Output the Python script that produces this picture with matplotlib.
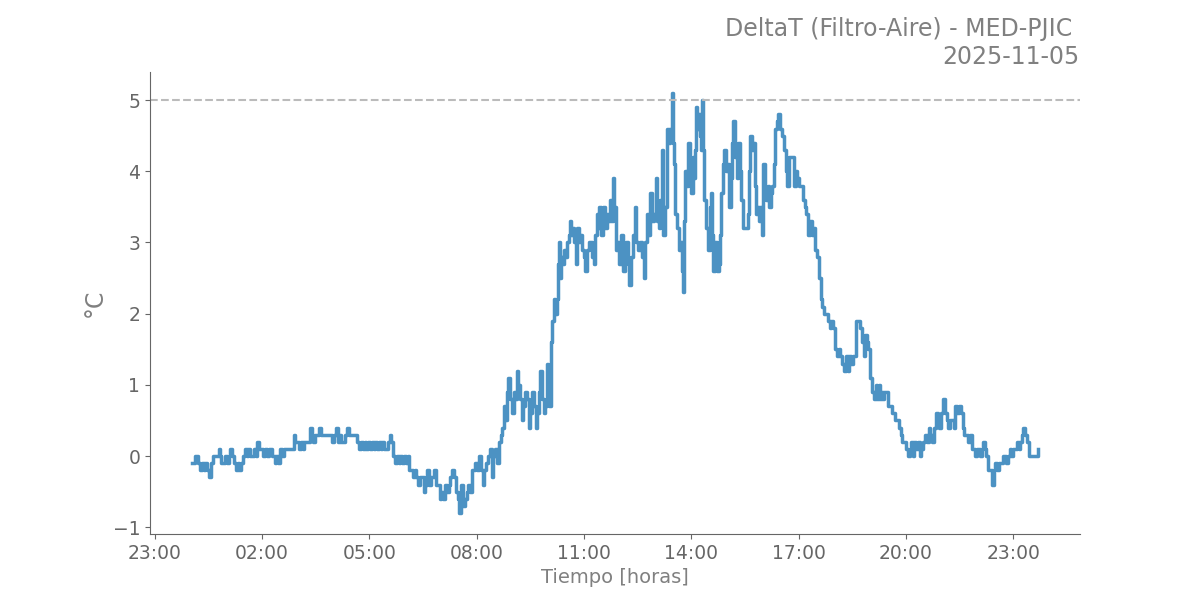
import matplotlib
matplotlib.use("Agg")
import matplotlib.pyplot as plt
import matplotlib.dates as mdates
import pandas as pd

DAY = "2025-11-05"
TITLE = "DeltaT (Filtro-Aire) - MED-PJIC \n" + DAY
THRESHOLD = 5.0

times = [
    "00:03", "00:06", "00:08", "00:11", "00:13", "00:16", "00:19", "00:22", "00:25", "00:28",
    "00:31", "00:34", "00:37", "00:41", "00:44", "00:47", "00:49", "00:52", "00:55", "00:58",
    "01:02", "01:05", "01:07", "01:10", "01:13", "01:16", "01:19", "01:22", "01:25", "01:28",
    "01:31", "01:34", "01:37", "01:40", "01:44", "01:47", "01:50", "01:52", "01:55", "01:58",
    "02:01", "02:05", "02:08", "02:11", "02:14", "02:17", "02:21", "02:24", "02:27", "02:30",
    "02:34", "02:37", "02:40", "02:44", "02:47", "02:50", "02:53", "02:56", "02:59", "03:02",
    "03:05", "03:08", "03:11", "03:14", "03:17", "03:20", "03:23", "03:26", "03:29", "03:32",
    "03:36", "03:39", "03:42", "03:45", "03:48", "03:51", "03:55", "03:58", "04:01", "04:04",
    "04:07", "04:10", "04:13", "04:16", "04:19", "04:22", "04:26", "04:29", "04:33", "04:36",
    "04:40", "04:43", "04:46", "04:49", "04:52", "04:55", "04:58", "05:01", "05:04", "05:07",
    "05:10", "05:13", "05:16", "05:19", "05:22", "05:25", "05:28", "05:31", "05:34", "05:37",
    "05:40", "05:43", "05:46", "05:49", "05:52", "05:55", "05:58", "06:01", "06:04", "06:07",
    "06:10", "06:13", "06:16", "06:19", "06:22", "06:25", "06:28", "06:31", "06:34", "06:37",
    "06:40", "06:43", "06:46", "06:49", "06:52", "06:55", "06:58", "07:01", "07:04", "07:07",
    "07:10", "07:13", "07:16", "07:19", "07:22", "07:25", "07:28", "07:31", "07:34", "07:37",
    "07:40", "07:43", "07:46", "07:49", "07:52", "07:55", "07:58", "08:01", "08:04", "08:07",
    "08:10", "08:13", "08:16", "08:19", "08:22", "08:25", "08:28", "08:31", "08:34", "08:37",
    "08:40", "08:43", "08:46", "08:48", "08:51", "08:53", "08:56", "08:59", "09:02", "09:05",
    "09:08", "09:10", "09:13", "09:16", "09:18", "09:21", "09:24", "09:27", "09:30", "09:33",
    "09:36", "09:39", "09:42", "09:45", "09:47", "09:50", "09:53", "09:55", "09:58", "10:00",
    "10:02", "10:05", "10:07", "10:09", "10:11", "10:14", "10:16", "10:18", "10:20", "10:22",
    "10:24", "10:27", "10:29", "10:32", "10:35", "10:37", "10:39", "10:42", "10:44", "10:46",
    "10:49", "10:52", "10:54", "10:57", "11:00", "11:02", "11:05", "11:08", "11:11", "11:14",
    "11:16", "11:18", "11:21", "11:23", "11:26", "11:29", "11:32", "11:35", "11:38", "11:41",
    "11:44", "11:46", "11:48", "11:51", "11:53", "11:56", "11:59", "12:02", "12:05", "12:08",
    "12:11", "12:14", "12:16", "12:19", "12:22", "12:25", "12:28", "12:31", "12:34", "12:37",
    "12:40", "12:43", "12:46", "12:48", "12:51", "12:54", "12:57", "13:00", "13:03", "13:06",
    "13:08", "13:10", "13:13", "13:16", "13:19", "13:22", "13:25", "13:27", "13:29", "13:31",
    "13:33", "13:36", "13:39", "13:41", "13:44", "13:46", "13:48", "13:50", "13:52", "13:55",
    "13:57", "14:00", "14:02", "14:04", "14:06", "14:08", "14:10", "14:12", "14:14", "14:16",
    "14:18", "14:20", "14:22", "14:25", "14:28", "14:31", "14:33", "14:35", "14:37", "14:40",
    "14:43", "14:46", "14:48", "14:50", "14:53", "14:55", "14:58", "15:01", "15:04", "15:06",
    "15:08", "15:10", "15:13", "15:16", "15:19", "15:22", "15:24", "15:26", "15:29", "15:32",
    "15:35", "15:37", "15:39", "15:41", "15:43", "15:46", "15:48", "15:51", "15:53", "15:56",
    "15:58", "16:00", "16:03", "16:06", "16:09", "16:11", "16:14", "16:16", "16:18", "16:20",
    "16:23", "16:26", "16:29", "16:32", "16:35", "16:38", "16:41", "16:44", "16:47", "16:50",
    "16:52", "16:55", "16:58", "17:01", "17:04", "17:07", "17:10", "17:13", "17:16", "17:19",
    "17:22", "17:25", "17:28", "17:31", "17:34", "17:37", "17:40", "17:43", "17:46", "17:49",
    "17:52", "17:55", "17:58", "18:01", "18:04", "18:07", "18:10", "18:13", "18:16", "18:19",
    "18:22", "18:25", "18:28", "18:31", "18:34", "18:37", "18:40", "18:43", "18:46", "18:49",
    "18:52", "18:55", "18:57", "19:00", "19:03", "19:06", "19:09", "19:11", "19:14", "19:16",
    "19:19", "19:21", "19:24", "19:27", "19:30", "19:33", "19:36", "19:39", "19:42", "19:45",
    "19:48", "19:51", "19:54", "19:57", "20:00", "20:03", "20:06", "20:09", "20:11", "20:14",
    "20:17", "20:20", "20:23", "20:26", "20:29", "20:32", "20:35", "20:38", "20:41", "20:44",
    "20:47", "20:50", "20:53", "20:56", "20:59", "21:02", "21:05", "21:08", "21:11", "21:14",
    "21:17", "21:20", "21:23", "21:26", "21:29", "21:32", "21:35", "21:38", "21:41", "21:44",
    "21:47", "21:50", "21:53", "21:56", "21:59", "22:02", "22:05", "22:08", "22:10", "22:13",
    "22:15", "22:18", "22:21", "22:24", "22:27", "22:30", "22:33", "22:36", "22:39", "22:42",
    "22:45", "22:48", "22:51", "22:54", "22:57", "23:00", "23:03", "23:06", "23:09", "23:12",
    "23:15", "23:17", "23:20", "23:23", "23:26", "23:29", "23:32", "23:35", "23:38", "23:41",
]

delta_t = [
    -0.1, -0.1, 0.0, 0.0, -0.1, -0.2, -0.1, -0.2, -0.1, -0.2,
    -0.3, -0.1, 0.0, 0.0, 0.0, 0.1, 0.0, -0.1, -0.1, 0.0,
    -0.1, 0.0, 0.1, 0.0, -0.1, -0.2, -0.1, -0.2, -0.1, 0.0,
    0.1, 0.0, 0.1, 0.0, 0.0, 0.1, 0.0, 0.2, 0.1, 0.1,
    0.0, 0.1, 0.0, 0.1, 0.1, 0.0, -0.1, 0.0, -0.1, 0.1,
    0.0, 0.1, 0.1, 0.1, 0.1, 0.1, 0.3, 0.2, 0.2, 0.1,
    0.2, 0.1, 0.2, 0.2, 0.2, 0.4, 0.3, 0.2, 0.3, 0.3,
    0.4, 0.3, 0.3, 0.3, 0.3, 0.3, 0.3, 0.2, 0.3, 0.4,
    0.2, 0.3, 0.2, 0.2, 0.3, 0.4, 0.3, 0.3, 0.3, 0.3,
    0.2, 0.1, 0.2, 0.1, 0.2, 0.1, 0.2, 0.1, 0.2, 0.1,
    0.2, 0.1, 0.2, 0.1, 0.2, 0.1, 0.1, 0.2, 0.3, 0.2,
    0.0, -0.1, 0.0, -0.1, 0.0, -0.1, 0.0, -0.1, 0.0, -0.2,
    -0.2, -0.3, -0.2, -0.3, -0.4, -0.3, -0.3, -0.5, -0.4, -0.2,
    -0.4, -0.3, -0.3, -0.2, -0.4, -0.4, -0.6, -0.5, -0.6, -0.4,
    -0.5, -0.4, -0.3, -0.2, -0.3, -0.5, -0.6, -0.8, -0.4, -0.7,
    -0.6, -0.5, -0.4, -0.5, -0.2, -0.2, -0.1, -0.2, 0.0, -0.2,
    -0.4, -0.2, -0.1, 0.0, 0.1, -0.3, 0.0, 0.1, -0.1, 0.2,
    0.3, 0.4, 0.7, 0.5, 0.9, 1.1, 0.8, 0.6, 0.9, 0.8,
    1.2, 1.0, 0.8, 0.5, 0.7, 0.9, 0.8, 0.4, 0.6, 0.9,
    0.7, 0.4, 0.6, 0.9, 1.2, 0.8, 0.6, 0.7, 1.3, 0.9,
    0.7, 1.6, 1.9, 2.2, 2.0, 2.2, 2.7, 3.0, 2.5, 2.8,
    2.7, 2.9, 2.8, 3.0, 3.1, 3.3, 3.1, 3.2, 3.0, 2.7,
    3.2, 3.0, 3.1, 2.9, 2.8, 2.6, 2.9, 3.0, 3.0, 2.8,
    2.7, 3.1, 3.4, 3.2, 3.5, 3.1, 3.5, 3.2, 3.4, 3.3,
    3.6, 3.3, 3.9, 3.5, 2.9, 3.0, 2.7, 3.1, 2.6, 2.9,
    3.0, 2.7, 2.4, 2.8, 3.1, 3.5, 3.0, 2.9, 3.0, 2.8,
    2.5, 3.0, 3.4, 3.1, 3.7, 3.3, 3.4, 3.9, 3.3, 3.2,
    3.6, 4.3, 3.1, 3.5, 4.6, 4.4, 4.6, 5.1, 4.4, 4.1,
    3.4, 3.2, 2.9, 3.0, 2.6, 2.3, 3.3, 4.0, 3.8, 4.4,
    3.9, 3.7, 4.2, 3.9, 4.3, 4.9, 4.6, 4.8, 4.5, 4.3,
    5.0, 4.3, 3.6, 3.2, 2.9, 3.5, 3.7, 3.1, 2.6, 3.0,
    2.6, 2.7, 3.1, 3.7, 4.1, 4.3, 4.0, 4.1, 3.5, 3.9,
    4.4, 4.7, 4.2, 3.9, 4.4, 4.0, 3.6, 3.2, 3.2, 3.2,
    3.4, 4.0, 4.5, 4.3, 4.4, 3.8, 3.4, 3.5, 3.3, 3.5,
    3.1, 4.1, 3.8, 3.6, 3.8, 3.5, 3.7, 3.8, 4.1, 4.6,
    4.7, 4.8, 4.6, 4.5, 4.3, 4.0, 3.8, 4.2, 4.2, 4.2,
    3.8, 4.0, 3.9, 3.8, 3.8, 3.6, 3.5, 3.4, 3.1, 3.3,
    3.1, 3.2, 2.9, 2.8, 2.5, 2.2, 2.1, 2.0, 2.0, 1.9,
    1.8, 1.9, 1.8, 1.5, 1.4, 1.5, 1.4, 1.3, 1.2, 1.4,
    1.2, 1.4, 1.3, 1.4, 1.4, 1.9, 1.9, 1.8, 1.6, 1.4,
    1.7, 1.6, 1.5, 1.1, 0.9, 0.8, 1.0, 0.8, 1.0, 0.8,
    0.9, 0.8, 0.9, 0.9, 0.7, 0.7, 0.6, 0.6, 0.5, 0.5,
    0.4, 0.3, 0.2, 0.2, 0.1, 0.0, 0.1, 0.2, 0.0, 0.2,
    0.1, 0.2, 0.0, 0.1, 0.2, 0.3, 0.2, 0.4, 0.3, 0.2,
    0.4, 0.6, 0.5, 0.4, 0.6, 0.8, 0.6, 0.5, 0.4, 0.5,
    0.5, 0.4, 0.7, 0.6, 0.7, 0.6, 0.4, 0.3, 0.3, 0.2,
    0.3, 0.1, 0.1, 0.0, 0.1, 0.1, 0.0, 0.1, 0.2, 0.1,
    0.0, -0.2, -0.2, -0.4, -0.2, -0.1, -0.2, -0.1, -0.1, 0.0,
    0.0, -0.1, 0.0, 0.1, 0.0, 0.1, 0.1, 0.2, 0.1, 0.2,
    0.3, 0.4, 0.3, 0.2, 0.0, 0.0, 0.0, 0.0, 0.0, 0.1,
]

GREY = "#808080"
TICK_GREY = "#666666"

df = pd.DataFrame({"time": pd.to_datetime([f"{DAY} {t}" for t in times]), "delta_t": delta_t})

fig, ax = plt.subplots(figsize=(12, 6), dpi=100)
# sensor reads in 0.1 steps, so draw it as steps
ax.plot(df["time"], df["delta_t"], color="tab:blue", alpha=0.8, lw=2.5, drawstyle="steps-post")
ax.axhline(THRESHOLD, color="#bbbbbb", ls="--", lw=1.5)

ax.xaxis.set_major_locator(mdates.HourLocator(byhour=[2, 5, 8, 11, 14, 17, 20, 23]))
ax.xaxis.set_major_formatter(mdates.DateFormatter("%H:%M"))

ax.set_title(TITLE, loc="right", fontsize=17, color=GREY)
ax.set_xlabel("Tiempo [horas]", fontsize=14, color=GREY)
ax.set_ylabel("°C", fontsize=17, color=GREY)
ax.tick_params(labelsize=13.5, colors=TICK_GREY)
for side in ("top", "right"):
    ax.spines[side].set_visible(False)
for side in ("left", "bottom"):
    ax.spines[side].set_color(TICK_GREY)

fig.savefig("out.png", dpi=100)
